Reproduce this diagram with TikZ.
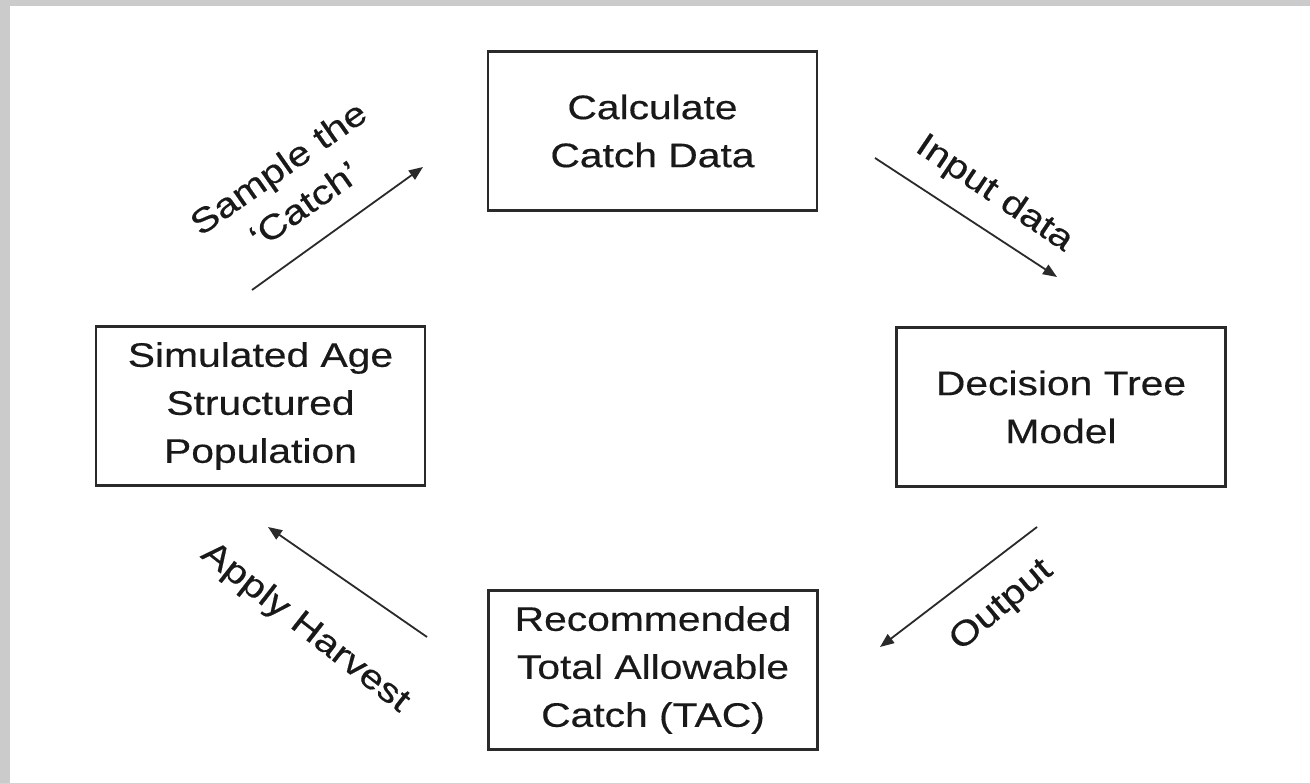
\documentclass[tikz,border=0pt]{standalone}
\usepackage{fontspec}
\setmainfont[FakeStretch=1.2,FakeBold=0.4]{Liberation Sans}
\usetikzlibrary{arrows.meta}
\definecolor{bordergray}{HTML}{CBCBCB}
\definecolor{ink}{HTML}{2A2A2A}
\begin{document}
\begin{tikzpicture}[x=1pt,y=-1pt,
  box/.style={draw=ink, line width=2.2pt, minimum width=329pt, minimum height=159pt,
    align=center, font=\fontsize{34}{48}\selectfont, text=black!90, inner sep=0pt},
  flow/.style={draw=ink, line width=1.8pt, -{Triangle[length=14pt,width=11pt]}},
  lbl/.style={align=center, font=\fontsize{34}{45}\selectfont, text=black!90, inner sep=0pt}]
\useasboundingbox (0,0) rectangle (1310,783);
\fill[bordergray] (0,0) rectangle (1310,783);
\fill[white] (10,6) rectangle (1310,783);

\node[box] (calc) at (652.5,131) {Calculate\\Catch Data};
\node[box] (dec) at (1061,407) {Decision Tree\\Model};
\node[box] (rec) at (653,670) {Recommended\\Total Allowable\\Catch (TAC)};
\node[box] (sim) at (260.5,406) {Simulated Age\\Structured\\Population};

\coordinate (s1) at (252,290);
\coordinate (s2) at (423,167);
\coordinate (i1) at (875,158);
\coordinate (i2) at (1057,277);
\coordinate (o1) at (1037,527);
\coordinate (o2) at (880,647);
\coordinate (h1) at (427,637);
\coordinate (h2) at (268,527);

\draw[flow] (s1) -- (s2);
\draw[flow] (i1) -- (i2);
\draw[flow] (o1) -- (o2);
\draw[flow] (h1) -- (h2);

\node[lbl, rotate=35] (lsample) at (291,186) {Sample the\\‘Catch’};
\node[lbl, rotate=-34] (linput) at (994,194) {Input data};
\node[lbl, rotate=40] (loutput) at (1002,606) {Output};
\node[lbl, rotate=-38] (lapply) at (305,628) {Apply Harvest};
\end{tikzpicture}
\end{document}
